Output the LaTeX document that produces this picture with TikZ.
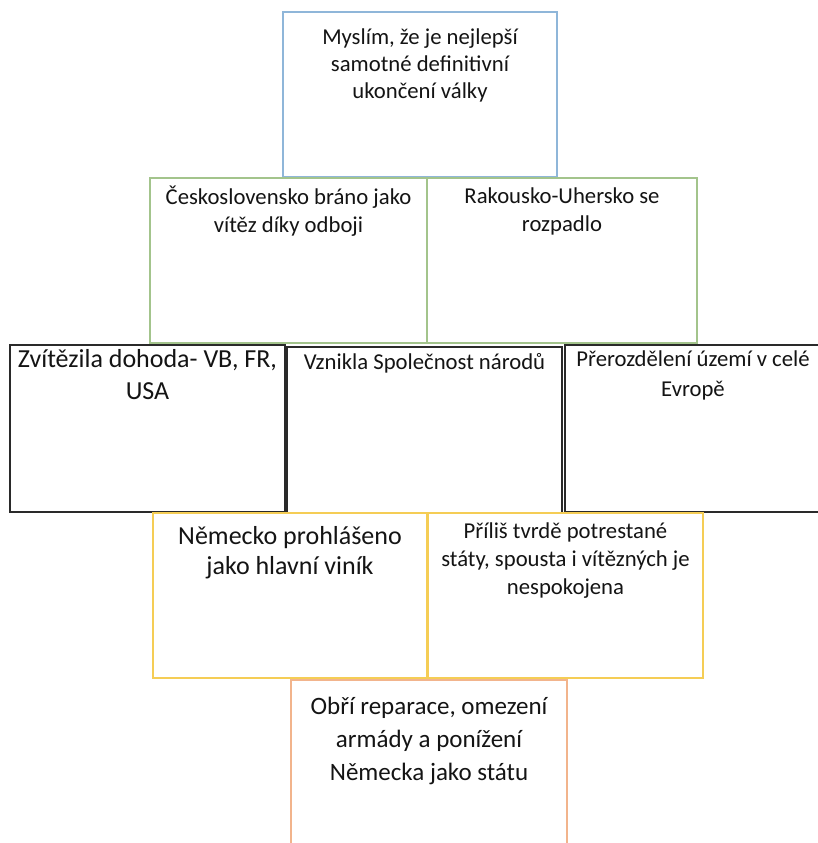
\documentclass[tikz,border=0pt]{standalone}
\usepackage{fontspec}
\setmainfont{Carlito}
\usetikzlibrary{calc}
\definecolor{cblue}{HTML}{8FB6D9}
\definecolor{cgreen}{HTML}{A3C48C}
\definecolor{cblack}{HTML}{2A2A2A}
\definecolor{cyellow}{HTML}{F5CD55}
\definecolor{corange}{HTML}{F2B48C}
\definecolor{ctext}{HTML}{141414}
\tikzset{
  cell/.style={draw=#1, line width=1.3pt, rectangle, inner sep=0pt, fill=white},
  darkcell/.style={draw=cblack, line width=2pt, rectangle, inner sep=0pt, fill=white},
  txt/.style={anchor=north, inner sep=0pt, align=center, text=ctext},
  fA/.style={font=\fontsize{22.7}{27}\selectfont},
  fB/.style={font=\fontsize{22.7}{28}\selectfont},
  fBr/.style={font=\fontsize{22.7}{30}\selectfont},
  fC/.style={font=\fontsize{26}{32}\selectfont},
  fD/.style={font=\fontsize{26}{30}\selectfont},
  fE/.style={font=\fontsize{22.7}{28}\selectfont},
  fF/.style={font=\fontsize{25}{33}\selectfont},
}
\begin{document}
\begin{tikzpicture}[x=1pt,y=-1pt]
\useasboundingbox[fill=white] (0,0) rectangle (818,843);
% top
\node[cell=cblue, minimum width=274pt, minimum height=165pt] (top) at (420,94.5) {};
% green row
\node[cell=cgreen, minimum width=277pt, minimum height=165pt] (gl) at (288.5,260.5) {};
\node[cell=cgreen, minimum width=270pt, minimum height=165pt] (gr) at (562,260.5) {};
% black row
\node[darkcell, minimum width=275pt, minimum height=167pt] (bl) at (147.5,428.5) {};
\node[darkcell, minimum width=275pt, minimum height=168pt] (bm) at (424.5,431) {};
\node[darkcell, minimum width=256pt, minimum height=167pt] (br) at (693,428.5) {};
% yellow row
\node[cell=cyellow, minimum width=274pt, minimum height=165pt] (yl) at (290,595.5) {};
\node[cell=cyellow, minimum width=275pt, minimum height=165pt] (yr) at (565.5,595.5) {};
% orange
\node[cell=corange, minimum width=276pt, minimum height=166pt] (ob) at (429,763) {};
% texts
\node[txt, fA] (ttop) at ($(top.north)+(0,17)$) {Myslím, že je nejlepší\\samotné definitivní\\ukončení války};
\node[txt, fB] (tgl) at ($(gl.north)+(0,8)$) {Československo bráno jako\\vítěz díky odboji};
\node[txt, fB] (tgr) at ($(gr.north)+(0,10)$) {Rakousko-Uhersko se\\rozpadlo};
\node[txt, fC] (tbl) at ($(bl.north)+(0,5)$) {Zvítězila dohoda- VB, FR,\\USA};
\node[txt, fB] (tbm) at ($(bm.north)+(0,7)$) {Vznikla Společnost národů};
\node[txt, fBr] (tbr) at ($(br.north)+(0,7)$) {Přerozdělení území v celé\\Evropě};
\node[txt, fD] (tyl) at ($(yl.north)+(0,14)$) {Německo prohlášeno\\jako hlavní viník};
\node[txt, fE] (tyr) at ($(yr.north)+(0,10)$) {Příliš tvrdě potrestané\\státy, spousta i vítězných je\\nespokojena};
\node[txt, fF] (tob) at ($(ob.north)+(0,18)$) {Obří reparace, omezení\\armády a ponížení\\Německa jako státu};
\end{tikzpicture}
\end{document}
